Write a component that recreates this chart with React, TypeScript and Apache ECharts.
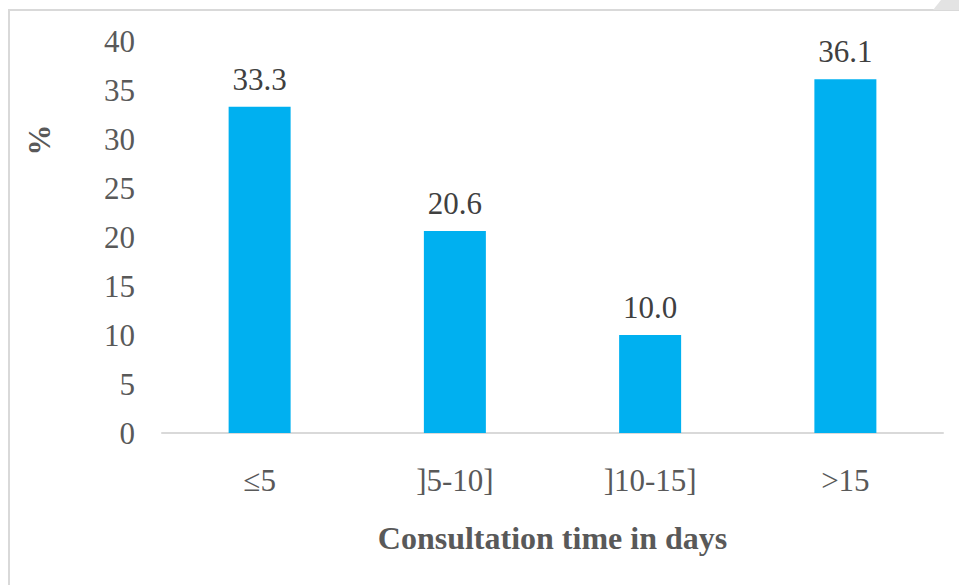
import React, { useEffect, useRef } from "react";
import * as echarts from "echarts";

const categories = ["≤5", "]5-10]", "]10-15]", ">15"];
const percentValues = [33.3, 20.6, 10.0, 36.1];
const yTicks = { min: 0, max: 40, interval: 5 };
const yAxisTitle = "%";
const xAxisTitle = "Consultation time in days";

export default function App() {
  const ref = useRef<HTMLDivElement>(null);
  useEffect(() => {
    if (!ref.current) return;
    const chart = echarts.init(ref.current, null, { renderer: "svg" });
    const font = "Liberation Serif";
    chart.setOption({
      animation: false,
      backgroundColor: "#ffffff",
      textStyle: { fontFamily: font },
      grid: { left: 162, right: 16, top: 41, bottom: 152 },
      graphic: [
        {
          type: "rect",
          shape: { x: 9, y: 10, width: 1000, height: 700 },
          style: { fill: "none", stroke: "#d9d9d9", lineWidth: 2 },
          silent: true,
        },
        {
          type: "polygon",
          shape: { points: [[933, 10], [941, 0], [959, 0], [959, 10]] },
          style: { fill: "#e3e3e3" },
          silent: true,
        },
        {
          type: "text",
          x: 39,
          y: 140,
          rotation: Math.PI / 2,
          style: {
            text: yAxisTitle,
            fill: "#595959",
            fontFamily: font,
            fontSize: 31,
            fontWeight: "bold",
            align: "center",
            verticalAlign: "middle",
          },
          silent: true,
        },
      ],
      xAxis: {
        type: "category",
        data: categories,
        axisLine: { lineStyle: { color: "#d9d9d9", width: 2 } },
        axisTick: { show: false },
        axisLabel: { color: "#595959", fontFamily: font, fontSize: 31, margin: 32 },
        name: xAxisTitle,
        nameLocation: "middle",
        nameGap: 89,
        nameTextStyle: { color: "#595959", fontFamily: font, fontSize: 32, fontWeight: "bold" },
      },
      yAxis: {
        type: "value",
        min: yTicks.min,
        max: yTicks.max,
        interval: yTicks.interval,
        splitLine: { show: false },
        axisLine: { show: false },
        axisTick: { show: false },
        axisLabel: { color: "#595959", fontFamily: font, fontSize: 31, margin: 27 },
      },
      series: [
        {
          type: "bar",
          data: percentValues,
          barWidth: 62,
          itemStyle: { color: "#00b0f0" },
          label: {
            show: true,
            position: "top",
            distance: 12,
            color: "#404040",
            fontFamily: font,
            fontSize: 31,
            formatter: (p: any) => Number(p.value).toFixed(1),
          },
        },
      ],
    });
    return () => chart.dispose();
  }, []);
  return (
    <div
      ref={ref}
      style={{ position: "fixed", left: 0, top: 0, width: 959, height: 585 }}
    />
  );
}
